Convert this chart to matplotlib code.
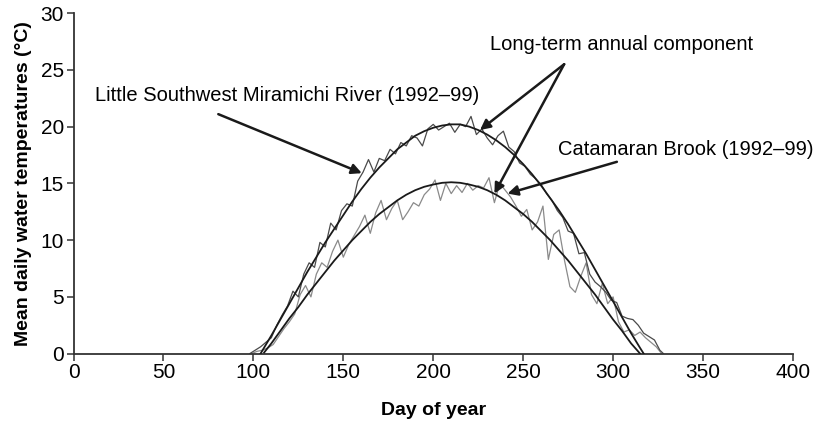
import matplotlib
matplotlib.use('Agg')
import matplotlib.pyplot as plt

plt.rcParams['font.family'] = ['Liberation Sans', 'DejaVu Sans']

# daily water temperature, Little Southwest Miramichi River (1992-99)
lswm_days = [98, 101, 104, 107, 110, 113, 116, 119, 122, 125, 128, 131, 134, 137, 140,
             143, 146, 149, 152, 155, 158, 161, 164, 167, 170, 173, 176, 179, 182, 185,
             188, 191, 194, 197, 200, 203, 206, 209, 212, 215, 218, 221, 224, 227, 230,
             233, 236, 239, 242, 245, 248, 251, 254, 257, 260, 263, 266, 269, 272, 275,
             278, 281, 284, 287, 290, 293, 296, 299, 302, 305, 308, 311, 314, 317, 320,
             323, 326, 328]
lswm_temp = [0.0, 0.3, 0.6, 1.0, 1.4, 2.5, 3.4, 4.2, 5.5, 5.0, 7.0, 8.0, 7.6, 9.8, 9.4,
             11.5, 10.9, 12.6, 13.2, 13.0, 15.2, 16.0, 17.1, 16.0, 17.2, 17.0, 18.0, 17.6, 18.6, 18.3,
             19.2, 19.0, 18.3, 19.8, 20.2, 19.7, 20.0, 20.3, 19.5, 20.2, 20.0, 20.9, 19.3, 19.8, 19.0,
             18.4, 19.2, 19.6, 18.2, 17.8, 16.8, 16.5, 15.8, 15.4, 14.9, 14.1, 13.5, 12.6, 12.0, 10.8,
             10.6, 8.8, 8.9, 7.0, 6.3, 5.9, 5.4, 4.7, 4.5, 3.3, 3.1, 3.0, 2.5, 1.8, 1.5,
             1.2, 0.3, 0.0]

# daily water temperature, Catamaran Brook (1992-99)
cat_days = [99, 102, 105, 108, 111, 114, 117, 120, 123, 126, 129, 132, 135, 138, 141,
            144, 147, 150, 153, 156, 159, 162, 165, 168, 171, 174, 177, 180, 183, 186,
            189, 192, 195, 198, 201, 204, 207, 210, 213, 216, 219, 222, 225, 228, 231,
            234, 237, 240, 243, 246, 249, 252, 255, 258, 261, 264, 267, 270, 273, 276,
            279, 282, 285, 288, 291, 294, 297, 300, 303, 306, 309, 312, 315, 318, 321,
            324, 327]
cat_temp = [0.0, 0.2, 0.3, 0.5, 0.8, 1.5, 2.2, 2.8, 3.5, 5.2, 6.0, 5.0, 7.0, 8.0, 7.6,
            9.0, 10.0, 8.5, 9.6, 10.4, 11.2, 12.2, 10.6, 12.4, 13.5, 11.8, 12.8, 13.5, 11.8, 12.5,
            13.3, 13.0, 14.0, 14.5, 15.3, 13.5, 15.0, 14.1, 14.8, 14.2, 15.0, 14.4, 14.8, 14.6, 15.5,
            13.3, 15.0, 14.4, 13.8, 13.0, 12.1, 12.7, 10.9, 11.6, 13.0, 8.3, 10.5, 10.9, 8.2, 5.9,
            5.4, 6.8, 8.0, 5.2, 4.4, 6.2, 4.4, 5.0, 2.8, 1.9, 2.1, 1.6, 1.9, 1.4, 1.0,
            0.6, 0.0]

# long-term annual components
lswm_fit_days = [104, 110, 115, 120, 125, 130, 135, 140, 145, 150, 155, 160, 165, 170, 175,
                 180, 185, 190, 195, 200, 205, 210, 215, 220, 225, 230, 235, 240, 245, 250,
                 255, 260, 265, 270, 275, 280, 285, 290, 295, 300, 305, 310, 315, 317]
lswm_fit = [0.0, 1.6, 3.0, 4.4, 5.8, 7.2, 8.5, 9.8, 11.0, 12.2, 13.4, 14.5, 15.5, 16.4, 17.2,
            18.0, 18.6, 19.2, 19.6, 19.9, 20.1, 20.2, 20.2, 20.0, 19.7, 19.3, 18.8, 18.2, 17.5, 16.7,
            15.8, 14.8, 13.7, 12.6, 11.4, 10.1, 8.8, 7.4, 6.0, 4.6, 3.2, 1.8, 0.5, 0.0]

cat_fit_days = [106, 110, 115, 120, 125, 130, 135, 140, 145, 150, 155, 160, 165, 170, 175,
                180, 185, 190, 195, 200, 205, 210, 215, 220, 225, 230, 235, 240, 245, 250,
                255, 260, 265, 270, 275, 280, 285, 290, 295, 300, 305, 310, 315]
cat_fit = [0.1, 0.9, 2.0, 3.1, 4.1, 5.2, 6.2, 7.2, 8.2, 9.1, 10.0, 10.8, 11.6, 12.3, 12.9,
           13.5, 14.0, 14.4, 14.7, 14.9, 15.05, 15.1, 15.05, 14.9, 14.7, 14.4, 14.0, 13.5, 12.9, 12.3,
           11.6, 10.8, 10.0, 9.1, 8.2, 7.2, 6.2, 5.2, 4.1, 3.0, 2.0, 0.9, 0.0]

fig = plt.figure(figsize=(8.26, 4.24), dpi=100)
ax = fig.add_axes([0.089, 0.166, 0.871, 0.803])

ax.plot(cat_days, cat_temp, color='#8a8a8a', lw=0.9, zorder=2)
ax.plot(lswm_days, lswm_temp, color='#4a4a4a', lw=0.9, zorder=2)
ax.plot(lswm_fit_days, lswm_fit, color='#1a1a1a', lw=1.3, zorder=3)
ax.plot(cat_fit_days, cat_fit, color='#1a1a1a', lw=1.3, zorder=3)

ax.set_xlim(0, 400)
ax.set_ylim(0, 30)
ax.set_xticks(range(0, 401, 50))
ax.set_yticks(range(0, 31, 5))
for side in ['top', 'right']:
    ax.spines[side].set_visible(False)
for side in ['left', 'bottom']:
    ax.spines[side].set_linewidth(1.3)
    ax.spines[side].set_color('#333333')
ax.tick_params(direction='out', length=5, width=1.1, color='#333333',
               labelsize=15, pad=2)
ax.set_xlabel('Day of year', fontsize=14, fontweight='bold', labelpad=14)
ax.set_ylabel('Mean daily water temperatures (°C)', fontsize=14, fontweight='bold', labelpad=6)

arrow = dict(arrowstyle='-|>', color='#1a1a1a', lw=1.8, mutation_scale=15, shrinkA=0, shrinkB=0)
ax.annotate('', xy=(160.3, 15.9), xytext=(80.5, 21.1), arrowprops=arrow)
ax.text(12, 22.7, 'Little Southwest Miramichi River (1992–99)', fontsize=14.5, va='center')

ax.text(231.6, 27.2, 'Long-term annual component', fontsize=14.5, va='center')
ax.annotate('', xy=(226, 19.7), xytext=(272.8, 25.5), arrowprops=arrow)
ax.annotate('', xy=(234, 14.1), xytext=(272.8, 25.5), arrowprops=arrow)

ax.text(269.5, 18.0, 'Catamaran Brook (1992–99)', fontsize=14.5, va='center', clip_on=False)
ax.annotate('', xy=(241.3, 14.1), xytext=(302.1, 16.9), arrowprops=arrow)

fig.savefig('out.png', dpi=100)
